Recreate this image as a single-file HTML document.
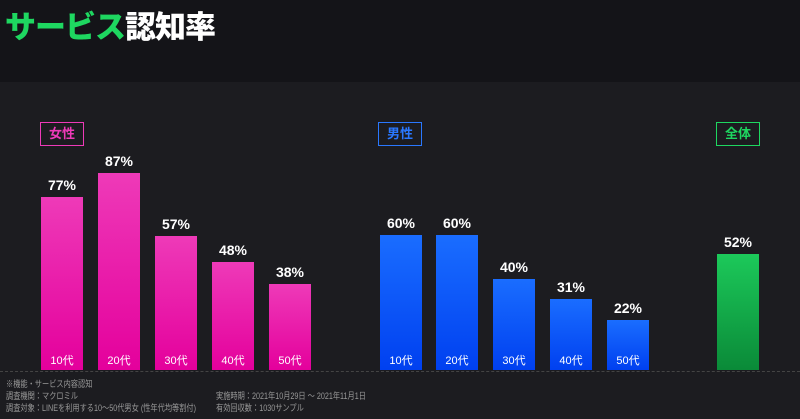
<!DOCTYPE html>
<html><head><meta charset="utf-8"><style>
body{margin:0;width:800px;height:419px;background:#1c1c20;position:relative;overflow:hidden;font-family:"Liberation Sans","Noto Sans CJK JP",sans-serif}
.hd{position:absolute;left:0;top:0;width:800px;height:82px;background:#141418}
.t{position:absolute;left:5px;top:2px;font-size:31px;font-weight:900;color:#fff;letter-spacing:-1px}
.t span{color:#1ed760}
.bar{position:absolute;width:42px;bottom:49px}
.f{background:linear-gradient(#ee3ab8,#e4009c)}
.m{background:linear-gradient(#1a6dff,#0040f0)}
.a{background:linear-gradient(#1cc95a,#0a8a38)}
.p{position:absolute;width:60px;text-align:center;color:#fff;font-weight:bold;font-size:14px}
.l{position:absolute;width:42px;text-align:center;color:#fff;font-size:11px;top:352px}
.box{position:absolute;top:122px;width:42px;height:22px;border:1px solid;font-size:13px;font-weight:bold;text-align:center;line-height:22px}
.base{position:absolute;left:0;top:371px;width:800px;border-top:1px dashed #444}
.ft{position:absolute;color:#999;font-size:9px;line-height:12px;transform:scaleX(0.8);transform-origin:0 0;white-space:nowrap}
</style></head><body>
<div class="hd"></div>
<div class="t"><span>サービス</span>認知率</div>
<div class="box" style="left:40px;color:#ee3ab8;border-color:#ee3ab8">女性</div>
<div class="box" style="left:378px;color:#2a78ff;border-color:#2a78ff">男性</div>
<div class="box" style="left:716px;color:#1ed760;border-color:#1ed760">全体</div>

<div class="bar f" style="left:41px;top:197px"></div><div class="p" style="left:32px;top:177px">77%</div><div class="l" style="left:41px">10代</div>
<div class="bar f" style="left:98px;top:173px"></div><div class="p" style="left:89px;top:153px">87%</div><div class="l" style="left:98px">20代</div>
<div class="bar f" style="left:155px;top:236px"></div><div class="p" style="left:146px;top:216px">57%</div><div class="l" style="left:155px">30代</div>
<div class="bar f" style="left:212px;top:262px"></div><div class="p" style="left:203px;top:242px">48%</div><div class="l" style="left:212px">40代</div>
<div class="bar f" style="left:269px;top:284px"></div><div class="p" style="left:260px;top:264px">38%</div><div class="l" style="left:269px">50代</div>

<div class="bar m" style="left:380px;top:235px"></div><div class="p" style="left:371px;top:215px">60%</div><div class="l" style="left:380px">10代</div>
<div class="bar m" style="left:436px;top:235px"></div><div class="p" style="left:427px;top:215px">60%</div><div class="l" style="left:436px">20代</div>
<div class="bar m" style="left:493px;top:279px"></div><div class="p" style="left:484px;top:259px">40%</div><div class="l" style="left:493px">30代</div>
<div class="bar m" style="left:550px;top:299px"></div><div class="p" style="left:541px;top:279px">31%</div><div class="l" style="left:550px">40代</div>
<div class="bar m" style="left:607px;top:320px"></div><div class="p" style="left:598px;top:300px">22%</div><div class="l" style="left:607px">50代</div>

<div class="bar a" style="left:717px;top:254px"></div><div class="p" style="left:708px;top:234px">52%</div>
<div class="base"></div>
<div class="ft" style="left:6px;top:378px">※機能・サービス内容認知<br>調査機関：マクロミル<br>調査対象：LINEを利用する10～50代男女 (性年代均等割付)</div>
<div class="ft" style="left:216px;top:390px">実施時期：2021年10月29日 ～ 2021年11月1日<br>有効回収数：1030サンプル</div>
</body></html>
